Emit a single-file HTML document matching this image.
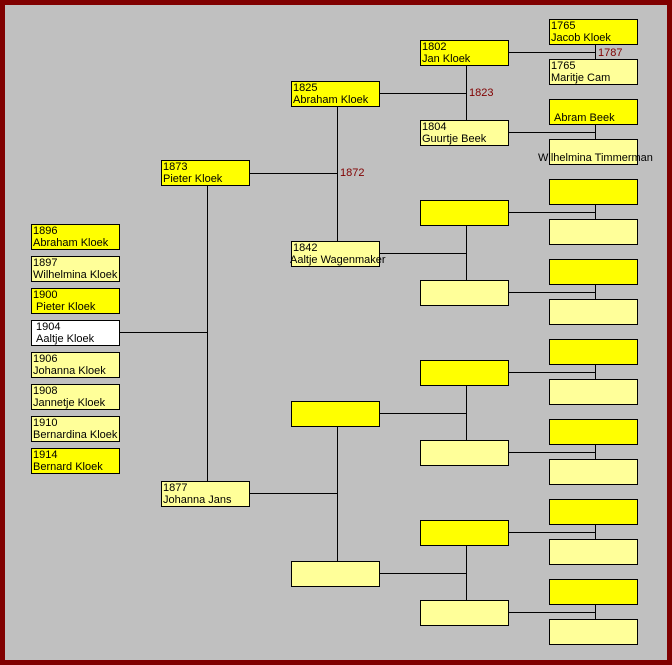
<!DOCTYPE html>
<html><head><meta charset="utf-8"><style>
*{margin:0;padding:0;box-sizing:border-box}
body{width:672px;height:665px;background:#800000;position:relative;overflow:hidden;font-family:"Liberation Sans",Arial,sans-serif;font-size:11px;}
#bg{position:absolute;left:5px;top:5px;width:662px;height:655px;background:#c0c0c0}
.b{position:absolute;width:89px;height:26px;border:1px solid #000;background:#ffff00;line-height:12px;padding:0 0 0 1px;white-space:nowrap;color:#000}
.l{background:#ffff99}
.w{background:#fff}
.h{position:absolute;height:1px;background:#000}
.v{position:absolute;width:1px;background:#000}
.t{position:absolute;color:#800000;font-size:11px;line-height:12px}
</style></head><body>
<div id="bg"></div>

<!-- lines -->
<div class="h" style="left:119px;top:332px;width:88px"></div>
<div class="v" style="left:207px;top:185px;height:296px"></div>
<div class="h" style="left:249px;top:173px;width:88px"></div>
<div class="h" style="left:249px;top:493px;width:88px"></div>
<div class="v" style="left:337px;top:106px;height:135px"></div>
<div class="v" style="left:337px;top:426px;height:135px"></div>
<div class="h" style="left:379px;top:93px;width:87px"></div>
<div class="h" style="left:379px;top:253px;width:87px"></div>
<div class="h" style="left:379px;top:413px;width:87px"></div>
<div class="h" style="left:379px;top:573px;width:87px"></div>
<div class="v" style="left:466px;top:65px;height:55px"></div>
<div class="v" style="left:466px;top:225px;height:55px"></div>
<div class="v" style="left:466px;top:385px;height:55px"></div>
<div class="v" style="left:466px;top:545px;height:55px"></div>
<div class="h" style="left:508px;top:52px;width:87px"></div>
<div class="h" style="left:508px;top:132px;width:87px"></div>
<div class="h" style="left:508px;top:212px;width:87px"></div>
<div class="h" style="left:508px;top:292px;width:87px"></div>
<div class="h" style="left:508px;top:372px;width:87px"></div>
<div class="h" style="left:508px;top:452px;width:87px"></div>
<div class="h" style="left:508px;top:532px;width:87px"></div>
<div class="h" style="left:508px;top:612px;width:87px"></div>
<div class="v" style="left:595px;top:44px;height:15px"></div>
<div class="v" style="left:595px;top:124px;height:15px"></div>
<div class="v" style="left:595px;top:204px;height:15px"></div>
<div class="v" style="left:595px;top:284px;height:15px"></div>
<div class="v" style="left:595px;top:364px;height:15px"></div>
<div class="v" style="left:595px;top:444px;height:15px"></div>
<div class="v" style="left:595px;top:524px;height:15px"></div>
<div class="v" style="left:595px;top:604px;height:15px"></div>

<div class="t" style="left:340px;top:167px">1872</div>
<div class="t" style="left:469px;top:87px">1823</div>
<div class="t" style="left:598px;top:47px">1787</div>

<!-- children -->
<div class="b" style="left:31px;top:224px">1896<br>Abraham Kloek</div>
<div class="b l" style="left:31px;top:256px">1897<br>Wilhelmina Kloek</div>
<div class="b" style="left:31px;top:288px">1900<br>&nbsp;Pieter Kloek</div>
<div class="b w" style="left:31px;top:320px">&nbsp;1904<br>&nbsp;Aaltje Kloek</div>
<div class="b l" style="left:31px;top:352px">1906<br>Johanna Kloek</div>
<div class="b l" style="left:31px;top:384px">1908<br>Jannetje Kloek</div>
<div class="b l" style="left:31px;top:416px">1910<br>Bernardina Kloek</div>
<div class="b" style="left:31px;top:448px">1914<br>Bernard Kloek</div>

<div class="b" style="left:161px;top:160px">1873<br>Pieter Kloek</div>
<div class="b l" style="left:161px;top:481px">1877<br>Johanna Jans</div>

<div class="b" style="left:291px;top:81px">1825<br>Abraham Kloek</div>
<div class="b l" style="left:291px;top:241px;overflow:visible">1842<br><span style="margin-left:-3px">Aaltje Wagenmaker</span></div>
<div class="b" style="left:291px;top:401px"></div>
<div class="b l" style="left:291px;top:561px"></div>

<div class="b" style="left:420px;top:40px">1802<br>Jan Kloek</div>
<div class="b l" style="left:420px;top:120px">1804<br>Guurtje Beek</div>
<div class="b" style="left:420px;top:200px"></div>
<div class="b l" style="left:420px;top:280px"></div>
<div class="b" style="left:420px;top:360px"></div>
<div class="b l" style="left:420px;top:440px"></div>
<div class="b" style="left:420px;top:520px"></div>
<div class="b l" style="left:420px;top:600px"></div>

<div class="b" style="left:549px;top:19px">1765<br>Jacob Kloek</div>
<div class="b l" style="left:549px;top:59px">1765<br>Maritje Cam</div>
<div class="b" style="left:549px;top:99px"><br>&nbsp;Abram Beek</div>
<div class="b l" style="left:549px;top:139px;overflow:visible;text-align:center;padding:0"><br><span style="margin-left:-12px;margin-right:-12px;display:inline-block">Wilhelmina Timmerman</span></div>
<div class="b" style="left:549px;top:179px"></div>
<div class="b l" style="left:549px;top:219px"></div>
<div class="b" style="left:549px;top:259px"></div>
<div class="b l" style="left:549px;top:299px"></div>
<div class="b" style="left:549px;top:339px"></div>
<div class="b l" style="left:549px;top:379px"></div>
<div class="b" style="left:549px;top:419px"></div>
<div class="b l" style="left:549px;top:459px"></div>
<div class="b" style="left:549px;top:499px"></div>
<div class="b l" style="left:549px;top:539px"></div>
<div class="b" style="left:549px;top:579px"></div>
<div class="b l" style="left:549px;top:619px"></div>
</body></html>
